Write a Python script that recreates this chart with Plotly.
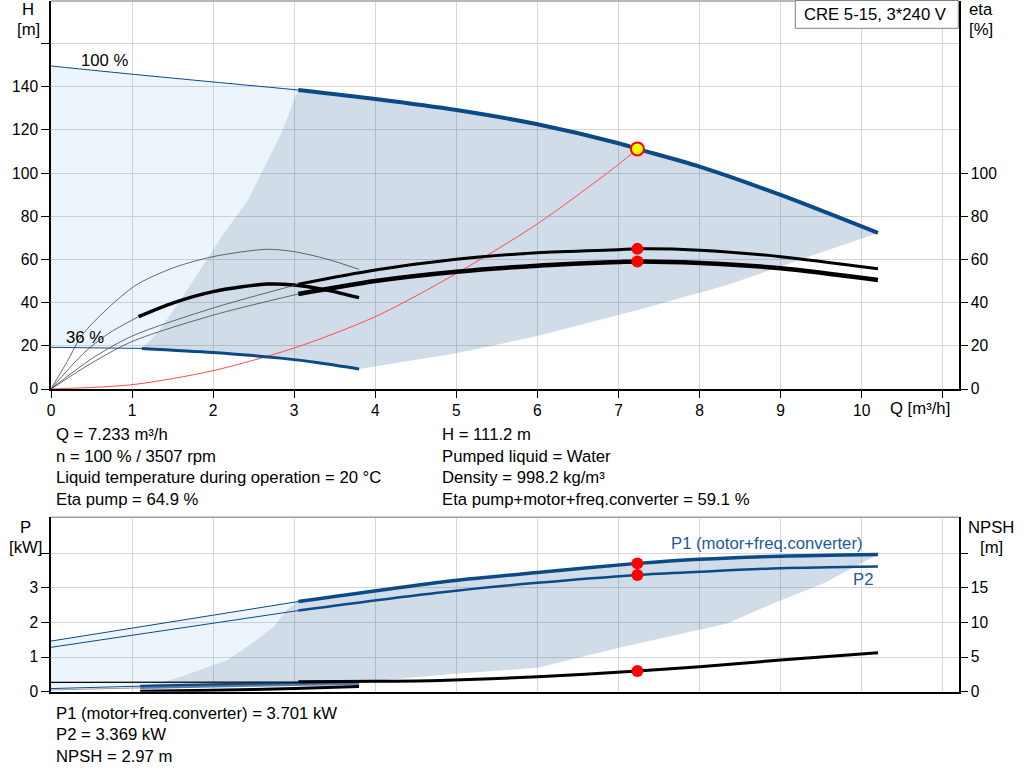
import plotly.graph_objects as go

# ---------------- data ----------------
# Top chart: head H [m] vs flow Q [m3/h]
q_h100_thin = [0, 1, 2, 3.05]
h_h100_thin = [149.6, 145.8, 142.2, 138.5]
q_h100 = [3.05, 4, 5, 6, 7, 7.233, 8, 9, 10.2]
h_h100 = [138.5, 134.3, 129.2, 122.6, 113.8, 111.2, 103.0, 89.9, 72.3]
q_h36_thin = [0, 1.12]
h_h36_thin = [19.3, 18.8]
q_h36 = [1.12, 2, 2.83, 3.3, 3.8]
h_h36 = [18.8, 16.9, 14.3, 12.2, 9.3]

# efficiency curves [%]
q_eta_pump_thin = [0, 0.5, 1, 2, 3.05]
eta_pump_thin = [0, 14, 24.5, 37.5, 48.5]
q_eta_pump = [3.05, 4, 5, 6, 7, 7.233, 8, 9, 10.2]
eta_pump = [48.5, 55.1, 60.1, 63.1, 64.5, 64.9, 64.3, 61.3, 55.7]
q_eta_tot_thin = [0, 0.5, 1, 2, 3.05]
eta_tot_thin = [0, 12, 22, 34.2, 44.0]
q_eta_tot = [3.05, 4, 5, 6, 7, 7.233, 8, 9, 10.2]
eta_tot = [44.0, 50.0, 54.3, 57.1, 58.8, 59.1, 58.4, 55.9, 50.5]
q_eta_pump36 = [0, 0.2, 0.4, 1.02, 1.5, 2.0, 2.66, 3.0, 3.4, 3.8]
eta_pump36 = [0, 12.7, 25.8, 47.4, 56.0, 61.3, 64.7, 63.6, 60.2, 55.4]
q_eta_tot36_thin = [0, 0.4, 0.7, 1.08]
eta_tot36_thin = [0, 16.5, 25.5, 33.5]
q_eta_tot36 = [1.08, 1.5, 2.0, 2.66, 3.0, 3.4, 3.8]
eta_tot36 = [33.5, 39.8, 45.1, 48.6, 48.2, 45.8, 42.3]

# system curve
q_sys = [0, 1, 2, 3, 4, 5, 6, 7, 7.233]
h_sys = [0, 2.0, 8.5, 19.0, 33.5, 53.5, 76.5, 104.0, 111.2]

# recommended range boundaries (top)
q_rng_left = [1.12, 1.31, 1.6, 1.86, 2.13, 2.43, 2.64, 2.84, 3.0, 3.05]
h_rng_left = [18.8, 25.8, 41.2, 56.6, 72.0, 87.5, 102.9, 118.3, 133.8, 138.5]
q_rng_low = [3.8, 5, 6, 6.77, 7.27, 8.34, 9, 9.65, 10.2]
h_rng_low = [9.3, 16.5, 24.5, 32.0, 36.9, 48.2, 56.6, 65.2, 72.3]

# operating point
q_op = [7.233]
h_op = [111.2]
eta_op = [64.9, 59.1]

# Bottom chart: power P [kW] and NPSH [m]
q_p1_thin = [0, 3.05]
p1_thin = [1.46, 2.6]
q_p1 = [3.05, 4.8, 6, 7.233, 8, 9, 10.2]
p1 = [2.6, 3.16, 3.44, 3.701, 3.82, 3.91, 3.96]
q_p2_thin = [0, 3.05]
p2_thin = [1.28, 2.34]
q_p2 = [3.05, 4.8, 6, 7.233, 8, 9, 10.2]
p2 = [2.34, 2.86, 3.14, 3.369, 3.46, 3.56, 3.61]
q_npsh_thin = [0, 3.05]
npsh_thin = [1.35, 1.4]
q_npsh = [3.05, 4, 4.8, 6, 7.233, 8, 9, 10.2]
npsh = [1.45, 1.5, 1.62, 2.16, 2.97, 3.6, 4.57, 5.63]

q_p1_36_thin = [0, 1.1]
p1_36_thin = [0.09, 0.16]
q_p1_36 = [1.1, 2, 3, 3.8]
p1_36 = [0.16, 0.2, 0.24, 0.27]
q_p2_36_thin = [0, 1.1]
p2_36_thin = [0.05, 0.11]
q_p2_36 = [1.1, 2, 3, 3.8]
p2_36 = [0.11, 0.15, 0.19, 0.22]
q_npsh36 = [1.1, 2, 3, 3.8]
npsh36 = [0.05, 0.2, 0.45, 0.75]

q_prng_left = [1.1, 1.35, 1.6, 2.17, 2.48, 2.75, 2.91, 3.05]
p_prng_left = [0.16, 0.26, 0.43, 0.91, 1.4, 1.88, 2.36, 2.6]
q_prng_low = [3.8, 4.8, 6.0, 7.06, 8.34, 8.91, 9.53, 10.2]
p_prng_low = [0.27, 0.48, 0.69, 1.30, 1.97, 2.55, 3.13, 3.96]

p_op = [3.701, 3.369]
npsh_op = [2.97]

x_ticks = list(range(0, 12))
x_ticktext = [str(v) for v in range(0, 11)] + [""]
h_ticks = list(range(0, 161, 20))
h_ticktext = [str(v) for v in range(0, 141, 20)] + [""]
eta_ticks = list(range(0, 101, 20))
p_ticks = [0, 1, 2, 3, 4]
p_ticktext = ["0", "1", "2", "3", ""]
npsh_ticks = [0, 5, 10, 15, 20]
npsh_ticktext = ["0", "5", "10", "15", ""]

info_left = ["Q = 7.233 m³/h", "n = 100 % / 3507 rpm",
             "Liquid temperature during operation = 20 °C", "Eta pump = 64.9 %"]
info_right = ["H = 111.2 m", "Pumped liquid = Water", "Density = 998.2 kg/m³",
              "Eta pump+motor+freq.converter = 59.1 %"]
info_bottom = ["P1 (motor+freq.converter) = 3.701 kW", "P2 = 3.369 kW", "NPSH = 2.97 m"]

# ---------------- styling ----------------
W, H = 1024, 781
BLUE = "#0b4a87"
LBLUE = "#1f5a96"
DARK_FILL = "rgba(20,80,140,0.20)"
LIGHT_FILL = "rgba(110,170,230,0.12)"
GRID = "#d6d6d6"
FONT = "Liberation Sans, Arial, sans-serif"
TXT = 16.7
TICK = 15.6


def px(x):
    return x / W


def py(y):
    return 1 - y / H


fig = go.Figure()


def line(x, y, xa, ya, color, width, shape="spline"):
    fig.add_trace(go.Scatter(x=x, y=y, xaxis=xa, yaxis=ya, mode="lines",
                             line=dict(color=color, width=width, shape=shape, smoothing=0.8),
                             hoverinfo="skip", showlegend=False))


def poly(x, y, xa, ya, color):
    fig.add_trace(go.Scatter(x=x, y=y, xaxis=xa, yaxis=ya, mode="lines", fill="toself",
                             fillcolor=color, line=dict(width=0), hoverinfo="skip",
                             showlegend=False))


# ---- top fills ----
light_q = q_h100_thin + q_rng_left[::-1] + q_h36_thin[::-1]
light_h = h_h100_thin + h_rng_left[::-1] + h_h36_thin[::-1]
poly(light_q, light_h, "x", "y", LIGHT_FILL)
dark_q = q_rng_left + q_h100 + q_rng_low[::-1] + q_h36[::-1]
dark_h = h_rng_left + h_h100 + h_rng_low[::-1] + h_h36[::-1]
poly(dark_q, dark_h, "x", "y", DARK_FILL)

# ---- top curves ----
line(q_sys, h_sys, "x", "y", "#ff4a4a", 1)
line(q_h100_thin, h_h100_thin, "x", "y", BLUE, 1)
line(q_h100, h_h100, "x", "y", BLUE, 4)
line(q_h36_thin, h_h36_thin, "x", "y", BLUE, 1)
line(q_h36, h_h36, "x", "y", BLUE, 3)

line(q_eta_pump36, eta_pump36, "x", "y2", "#444444", 0.8)
line(q_eta_tot36_thin, eta_tot36_thin, "x", "y2", "#444444", 0.8)
line(q_eta_tot36, eta_tot36, "x", "y2", "#000000", 3.5)
line(q_eta_pump_thin, eta_pump_thin, "x", "y2", "#444444", 0.8)
line(q_eta_tot_thin, eta_tot_thin, "x", "y2", "#444444", 0.8)
line(q_eta_pump, eta_pump, "x", "y2", "#000000", 3)
line(q_eta_tot, eta_tot, "x", "y2", "#000000", 4.5)

fig.add_trace(go.Scatter(x=q_op * 2, y=eta_op, xaxis="x", yaxis="y2", mode="markers",
                         marker=dict(size=12, color="#ff0000"), hoverinfo="skip",
                         showlegend=False))
fig.add_trace(go.Scatter(x=q_op, y=h_op, xaxis="x", yaxis="y", mode="markers",
                         marker=dict(size=13, color="#ffff00", line=dict(color="#ff0000", width=2)),
                         hoverinfo="skip", showlegend=False))

# ---- bottom fills ----
plight_q = q_p1_thin + q_prng_left[::-1] + q_p1_36_thin[::-1]
plight_p = p1_thin + p_prng_left[::-1] + p1_36_thin[::-1]
poly(plight_q, plight_p, "x2", "y3", LIGHT_FILL)
pdark_q = q_prng_left + q_p1 + q_prng_low[::-1] + q_p1_36[::-1]
pdark_p = p_prng_left + p1 + p_prng_low[::-1] + p1_36[::-1]
poly(pdark_q, pdark_p, "x2", "y3", DARK_FILL)

# ---- bottom curves ----
line(q_p1_thin, p1_thin, "x2", "y3", BLUE, 1)
line(q_p2_thin, p2_thin, "x2", "y3", BLUE, 1)
line(q_p1, p1, "x2", "y3", BLUE, 3.5)
line(q_p2, p2, "x2", "y3", BLUE, 2.5)
line(q_p1_36_thin, p1_36_thin, "x2", "y3", BLUE, 1)
line(q_p2_36_thin, p2_36_thin, "x2", "y3", "#8a9ab0", 1)
line(q_p1_36, p1_36, "x2", "y3", BLUE, 3)
line(q_p2_36, p2_36, "x2", "y3", "#5a7ea8", 2)
line(q_npsh_thin, npsh_thin, "x2", "y4", "#000000", 1.2)
line(q_npsh, npsh, "x2", "y4", "#000000", 3)
line(q_npsh36, npsh36, "x2", "y4", "#000000", 3)

fig.add_trace(go.Scatter(x=q_op * 2, y=p_op, xaxis="x2", yaxis="y3", mode="markers",
                         marker=dict(size=12, color="#ff0000"), hoverinfo="skip",
                         showlegend=False))
fig.add_trace(go.Scatter(x=q_op, y=npsh_op, xaxis="x2", yaxis="y4", mode="markers",
                         marker=dict(size=12, color="#ff0000"), hoverinfo="skip",
                         showlegend=False))

# ---------------- axes ----------------
xdom = [px(51), px(959)]
top_dom = [py(389), py(1)]
bot_dom = [py(691.7), py(517.3)]
xrange_ = [0, 11.2]
hrange = [0, 179.7]
prange = [0, 5.03]
nrange = [0, 25.15]

tickfont = dict(family=FONT, size=TICK, color="black")
common_x = dict(range=xrange_, tickvals=x_ticks, showgrid=True, gridcolor=GRID, gridwidth=1,
                showline=True, linecolor="black", linewidth=1.5,
                ticklen=7, tickcolor="black", zeroline=False, fixedrange=True,
                automargin=False, tickfont=tickfont)
common_y = dict(showline=True, linecolor="black", linewidth=1.5, ticks="outside",
                tickcolor="black", zeroline=False, automargin=False, tickfont=tickfont)

annotations = []
shapes = []

fig.update_layout(
    width=W, height=H,
    margin=dict(l=0, r=0, t=0, b=0, autoexpand=False),
    paper_bgcolor="white", plot_bgcolor="white",
    font=dict(family=FONT, size=TICK, color="black"),
    showlegend=False,
    xaxis=dict(domain=xdom, anchor="y", ticktext=x_ticktext, ticks="outside", **common_x),
    xaxis2=dict(domain=xdom, anchor="y3", showticklabels=False, ticks="", **common_x),
    yaxis=dict(domain=top_dom, range=hrange, tickvals=h_ticks, ticktext=h_ticktext,
               showgrid=True, gridcolor=GRID, ticklen=8, anchor="x", **common_y),
    yaxis2=dict(range=hrange, tickvals=eta_ticks, overlaying="y", side="right", anchor="x",
                showgrid=False, ticklen=7, **common_y),
    yaxis3=dict(domain=bot_dom, range=prange, tickvals=p_ticks, ticktext=p_ticktext,
                showgrid=True, gridcolor=GRID, ticklen=8, anchor="x2", **common_y),
    yaxis4=dict(range=nrange, tickvals=npsh_ticks, ticktext=npsh_ticktext, overlaying="y3",
                side="right", anchor="x2", showgrid=False, ticklen=7, **common_y),
)

# top borders (grey)
for ya in ["y domain", "y3 domain"]:
    shapes.append(dict(type="line", xref="x domain", yref=ya, x0=0, x1=1, y0=1, y1=1,
                       line=dict(color="#a0a0a0", width=1.5)))
# model box
shapes.append(dict(type="rect", xref="paper", yref="paper", x0=px(795.3), x1=px(958.3),
                   y0=py(28.3), y1=py(0.5), line=dict(color="#808080", width=1),
                   fillcolor="white"))
fig.update_layout(shapes=shapes)


def text(x, y, s, xanchor="left", color="black", size=TXT):
    annotations.append(dict(x=px(x), y=py(y), xref="paper", yref="paper", text=s,
                            showarrow=False, xanchor=xanchor, yanchor="middle",
                            font=dict(family=FONT, size=size, color=color)))


text(801.7, 14.5, "CRE 5-15, 3*240 V")
text(28, 10, "H", "center")
text(28, 30, "[m]", "center")
text(981, 10, "eta", "center")
text(981, 30, "[%]", "center")
text(888, 408, "Q [m³/h]")
text(25, 527, "P", "center")
text(25, 547, "[kW]", "center")
text(991, 527.5, "NPSH", "center")
text(991, 547.5, "[m]", "center")
text(79, 60.5, "100 %")
text(64, 337.5, "36 %")
text(669, 543, "P1 (motor+freq.converter)", color=LBLUE)
text(851, 579, "P2", color=LBLUE)

for i, s in enumerate(info_left):
    text(54.3, 434.5 + 21.5 * i, s)
for i, s in enumerate(info_right):
    text(440, 434.5 + 21.5 * i, s)
for i, s in enumerate(info_bottom):
    text(54.3, 713 + 21.5 * i, s)

fig.update_layout(annotations=annotations)

fig.write_html("out.html", config={"displayModeBar": False},
               post_script="document.body.style.margin='0';document.body.style.overflow='hidden';")
